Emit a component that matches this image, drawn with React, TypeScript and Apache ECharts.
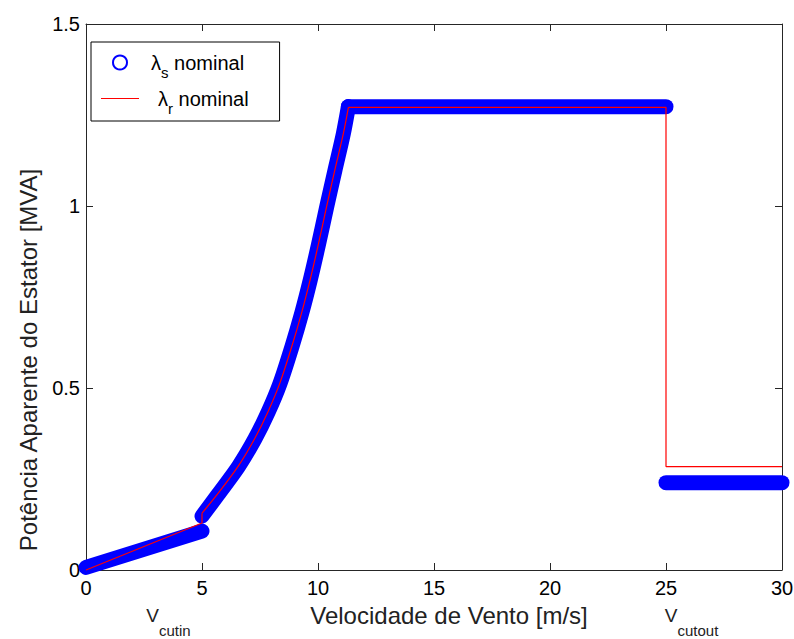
import React, { useEffect, useRef } from "react";
import * as echarts from "echarts";

// Axis ticks
const xTicks = [0, 5, 10, 15, 20, 25, 30];
const yTicks = [0, 0.5, 1, 1.5];

// Legend names
const legendNames = ["λs nominal", "λr nominal"];
const legendSubs = ["s", "r"];

// Wind speeds sampled along the rising part of the curve
const curveSpeed = [5.0, 5.7, 6.57, 7.28, 7.86, 8.36, 8.87, 9.3, 9.66, 10.01, 10.37, 10.73, 11.09, 11.31];

// λs nominal (blue circles)
const statorSpeedLow = [0, 5];
const statorPowerLow = [0.007, 0.107];
const statorCurvePower = [0.148, 0.208, 0.284, 0.36, 0.435, 0.512, 0.612, 0.706, 0.795, 0.891, 0.996, 1.098, 1.198, 1.273];
const statorSpeedFlat = [11.31, 25];
const statorPowerFlat = [1.273, 1.273];
const statorSpeedCut = [25, 30];
const statorPowerCut = [0.24, 0.24];

// λr nominal (red line)
const rotorSpeedLow = [0, 5, 5];
const rotorPowerLow = [0, 0.129, 0.156];
const rotorCurvePower = [0.156, 0.211, 0.286, 0.362, 0.437, 0.514, 0.614, 0.708, 0.797, 0.893, 0.998, 1.1, 1.198, 1.271];
const rotorSpeedHigh = [11.31, 25, 25, 30];
const rotorPowerHigh = [1.271, 1.271, 0.284, 0.284];

// Annotations below the x axis
const cutMain = ["V", "V"];
const cutSubs = ["cutin", "cutout"];
const cutSpeeds = [2.6, 24.95];
const cutLevel = [-0.124, -0.124];

const xTitle = "Velocidade de Vento [m/s]";
const yTitle = "Potência Aparente do Estator [MVA]";

const FONT = '"Liberation Sans", Arial, Helvetica, sans-serif';
const BLUE = "#0000ff";
const RED = "#ff0000";
const AXIS = "#262626";

const zip = (xs: number[], ys: number[]) => xs.map((x, i) => [x, ys[i]]);

export default function App() {
  const ref = useRef<HTMLDivElement>(null);

  useEffect(() => {
    if (!ref.current) return;
    const chart = echarts.init(ref.current, null, { renderer: "svg" });

    const axisLine = { show: true, onZero: false, lineStyle: { color: AXIS, width: 1 } };
    const axisTick = { show: true, inside: true, length: 7, lineStyle: { color: AXIS, width: 1 } };

    const blueBase = {
      type: "line",
      name: legendNames[0],
      showSymbol: false,
      symbol: "none",
      clip: false,
      silent: true,
      color: BLUE,
      itemStyle: { color: BLUE },
      lineStyle: { color: BLUE, width: 15, cap: "round", join: "round" },
      z: 2,
    };
    const redBase = {
      type: "line",
      name: legendNames[1],
      showSymbol: false,
      symbol: "none",
      clip: false,
      silent: true,
      color: RED,
      itemStyle: { color: RED },
      lineStyle: { color: RED, width: 1.2 },
      z: 3,
    };
    const smoothCfg = { smooth: 0.3 };

    const option: any = {
      animation: false,
      backgroundColor: "#ffffff",
      grid: { left: 86, right: 12, top: 24, bottom: 69, outerBoundsMode: "none", containLabel: false },
      xAxis: [
        {
          type: "value",
          min: xTicks[0],
          max: xTicks[xTicks.length - 1],
          interval: xTicks[1] - xTicks[0],
          position: "bottom",
          name: xTitle,
          nameLocation: "middle",
          nameGap: 33,
          nameTextStyle: { fontSize: 24, fontFamily: FONT, color: "#222", padding: [0, 0, 0, 30] },
          axisLine,
          axisTick,
          axisLabel: { fontSize: 20, fontFamily: FONT, color: "#000", margin: 8 },
          splitLine: { show: false },
        },
        {
          type: "value",
          min: xTicks[0],
          max: xTicks[xTicks.length - 1],
          interval: xTicks[1] - xTicks[0],
          position: "top",
          axisLine,
          axisTick,
          axisLabel: { show: false },
          splitLine: { show: false },
        },
      ],
      yAxis: [
        {
          type: "value",
          min: yTicks[0],
          max: yTicks[yTicks.length - 1],
          interval: yTicks[1] - yTicks[0],
          position: "left",
          name: yTitle,
          nameLocation: "middle",
          nameGap: 46,
          nameTextStyle: { fontSize: 24, fontFamily: FONT, color: "#222", padding: [0, 126, 0, 0] },
          axisLine,
          axisTick,
          axisLabel: { fontSize: 20, fontFamily: FONT, color: "#000", margin: 6, formatter: (v: number) => String(v) },
          splitLine: { show: false },
        },
        {
          type: "value",
          min: yTicks[0],
          max: yTicks[yTicks.length - 1],
          interval: yTicks[1] - yTicks[0],
          position: "right",
          axisLine,
          axisTick,
          axisLabel: { show: false },
          splitLine: { show: false },
        },
      ],
      legend: {
        orient: "vertical",
        left: 91,
        top: 42,
        padding: [3, 31, 5, 10],
        itemGap: 1,
        itemWidth: 38,
        itemHeight: 14,
        borderColor: "#000",
        borderWidth: 1,
        borderRadius: 0,
        backgroundColor: "#fff",
        selectedMode: false,
        data: [
          { name: legendNames[0], icon: "emptyCircle" },
          { name: legendNames[1], icon: "path://M0,0H380V12H0Z" },
        ],
        formatter: (name: string) => {
          const i = legendNames.indexOf(name);
          return `{l${i}|λ}{s|${legendSubs[i]}}{n| nominal}`;
        },
        textStyle: {
          fontSize: 20,
          fontFamily: FONT,
          color: "#000",
          rich: {
            l0: { fontSize: 20, fontFamily: FONT, color: "#000", lineHeight: 22, padding: [0, 0, 0, 7], verticalAlign: "middle" },
            l1: { fontSize: 20, fontFamily: FONT, color: "#000", lineHeight: 22, padding: [0, 0, 0, 14], verticalAlign: "middle" },
            s: { fontSize: 15, fontFamily: FONT, color: "#000", lineHeight: 1, padding: [20, 0, 0, 0], verticalAlign: "middle" },
            n: { fontSize: 20, fontFamily: FONT, color: "#000", lineHeight: 22, verticalAlign: "middle" },
          },
        },
      },
      series: [
        { ...blueBase, data: zip(statorSpeedLow, statorPowerLow) },
        { ...blueBase, ...smoothCfg, data: zip(curveSpeed, statorCurvePower) },
        { ...blueBase, data: zip(statorSpeedFlat, statorPowerFlat) },
        { ...blueBase, data: zip(statorSpeedCut, statorPowerCut) },
        { ...redBase, data: zip(rotorSpeedLow, rotorPowerLow) },
        { ...redBase, ...smoothCfg, data: zip(curveSpeed, rotorCurvePower) },
        { ...redBase, data: zip(rotorSpeedHigh, rotorPowerHigh) },
      ],
    };

    chart.setOption(option);

    const graphics = cutSpeeds.map((s, i) => {
      const p = chart.convertToPixel({ xAxisIndex: 0, yAxisIndex: 0 }, [s, cutLevel[i]]) as number[];
      return {
        type: "text",
        x: p[0],
        y: p[1],
        silent: true,
        style: {
          text: `{v|${cutMain[i]}}{s|${cutSubs[i]}}`,
          textAlign: "left",
          verticalAlign: "middle",
          fill: "#222",
          font: `19px ${FONT}`,
          rich: {
            v: { fontSize: 19, fontFamily: FONT, fill: "#222", lineHeight: 22, verticalAlign: "middle" },
            s: { fontSize: 15, fontFamily: FONT, fill: "#222", lineHeight: 1, padding: [31, 0, 0, 0], verticalAlign: "middle" },
          },
        },
      };
    });
    chart.setOption({ graphic: graphics });

    return () => chart.dispose();
  }, []);

  return (
    <div
      ref={ref}
      style={{ position: "fixed", left: 0, top: 0, width: 794, height: 639, background: "#fff" }}
    />
  );
}
